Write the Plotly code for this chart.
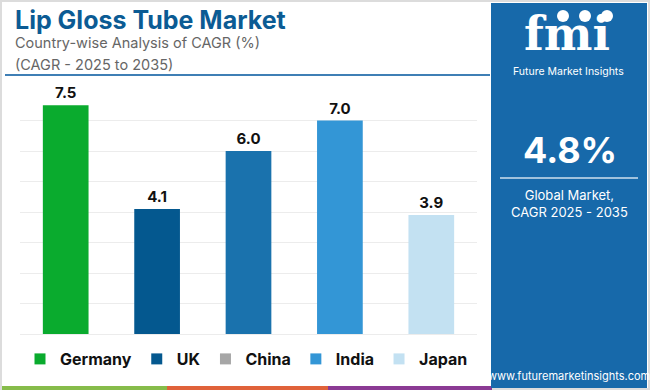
import plotly.graph_objects as go

# ---- data ----
countries = ["Germany", "UK", "China", "India", "Japan"]
cagr = [7.5, 4.1, 6.0, 7.0, 3.9]
bar_colors = ["#0aab2e", "#04588f", "#1a72ad", "#3396d6", "#c3e1f2"]
legend_colors = ["#0aab2e", "#04588f", "#a6a6a6", "#3396d6", "#c3e1f2"]
global_cagr = "4.8%"

W, H = 650, 390
L, R, T, B = 20, 173, 90, 56
PW, PH = W - L - R, H - T - B


def px(x):
    return (x - L) / PW


def py(y):
    return (H - B - y) / PH


FONT = "Inter"
fig = go.Figure()
fig.add_trace(go.Bar(
    x=countries, y=cagr, marker=dict(color=bar_colors, line=dict(width=0)),
    text=[f"{v:.1f}" for v in cagr], textposition="outside", cliponaxis=False,
    textfont=dict(family=FONT, size=15, color="#111111", weight="bold"),
    showlegend=False, hoverinfo="skip",
))
for name, col in zip(countries, legend_colors):
    fig.add_trace(go.Scatter(
        x=[None], y=[None], mode="markers", name=name,
        marker=dict(symbol="square", size=11, color=col),
    ))

shapes = []
# outer light frame
shapes.append(dict(type="rect", xref="paper", yref="paper", x0=px(1), x1=px(649), y0=py(389), y1=py(1),
                   line=dict(color="#dcdcdc", width=2), fillcolor="rgba(0,0,0,0)", layer="below"))
# title underline
shapes.append(dict(type="line", xref="paper", yref="paper", x0=px(5), x1=px(490), y0=py(75), y1=py(75),
                   line=dict(color="#3f7fb5", width=2)))
# bottom stripes
for x0, x1, c in [(2, 167, "#86bc4a"), (167, 328, "#e0623a"), (328, 492, "#8b3a94")]:
    shapes.append(dict(type="rect", xref="paper", yref="paper", x0=px(x0), x1=px(x1), y0=py(390), y1=py(386),
                       line=dict(width=0), fillcolor=c))
# right panel
PANEL = "#1769aa"
shapes.append(dict(type="rect", xref="paper", yref="paper", x0=px(491), x1=px(647), y0=py(388), y1=py(3),
                   line=dict(width=0), fillcolor=PANEL))
# panel divider
shapes.append(dict(type="line", xref="paper", yref="paper", x0=px(500), x1=px(638), y0=py(178), y1=py(178),
                   line=dict(color="#cfe0ee", width=1.5)))
# globe icons above logo
for cx in [563, 585, 607]:
    shapes.append(dict(type="circle", xref="paper", yref="paper", x0=px(cx - 6), x1=px(cx + 6),
                       y0=py(22), y1=py(10), line=dict(width=0), fillcolor="white"))

annotations = [
    dict(text="<b>Lip Gloss Tube Market</b>", x=px(13), y=py(20), xanchor="left", yanchor="middle",
         font=dict(family=FONT, size=25, color="#0b5b94")),
    dict(text="Country-wise Analysis of CAGR (%)", x=px(13), y=py(43), xanchor="left", yanchor="middle",
         font=dict(family=FONT, size=14.5, color="#666666")),
    dict(text="(CAGR - 2025 to 2035)", x=px(13), y=py(64), xanchor="left", yanchor="middle",
         font=dict(family=FONT, size=14.5, color="#666666")),
    dict(text="<b>fmi</b>", x=px(567), y=py(34), xanchor="center", yanchor="middle",
         font=dict(family="DejaVu Serif", size=46, color="white")),
    dict(text="Future Market Insights", x=px(568), y=py(71), xanchor="center", yanchor="middle",
         font=dict(family=FONT, size=10.5, color="white")),
    dict(text=f"<b>{global_cagr}</b>", x=px(570), y=py(150), xanchor="center", yanchor="middle",
         font=dict(family=FONT, size=36, color="white")),
    dict(text="Global Market,<br>CAGR 2025 - 2035", x=px(569), y=py(203), xanchor="center", yanchor="middle",
         font=dict(family=FONT, size=13, color="white")),
    dict(text="www.futuremarketinsights.com", x=px(569), y=py(376), xanchor="center", yanchor="middle",
         font=dict(family=FONT, size=11, color="white")),
]
for a in annotations:
    a.update(xref="paper", yref="paper", showarrow=False)

fig.update_layout(
    width=W, height=H, margin=dict(l=L, r=R, t=T, b=B, autoexpand=False),
    paper_bgcolor="white", plot_bgcolor="white",
    bargap=0.5,
    xaxis=dict(showticklabels=False, showgrid=False, zeroline=False, showline=False, ticks=""),
    yaxis=dict(range=[0, 8], dtick=1, showticklabels=False, showgrid=True, gridcolor="#ececec", gridwidth=1,
               zeroline=True, zerolinecolor="#ececec", zerolinewidth=1, showline=False, ticks=""),
    legend=dict(orientation="h", x=0, xanchor="left", y=py(359), yanchor="middle",
                font=dict(family=FONT, size=16, color="#111111", weight="bold"),
                bgcolor="rgba(0,0,0,0)", itemclick=False, itemdoubleclick=False),
    shapes=shapes, annotations=annotations,
)

fig.write_html("out.html", config={"displayModeBar": False},
               post_script="document.body.style.margin='0';document.body.style.padding='0';")
